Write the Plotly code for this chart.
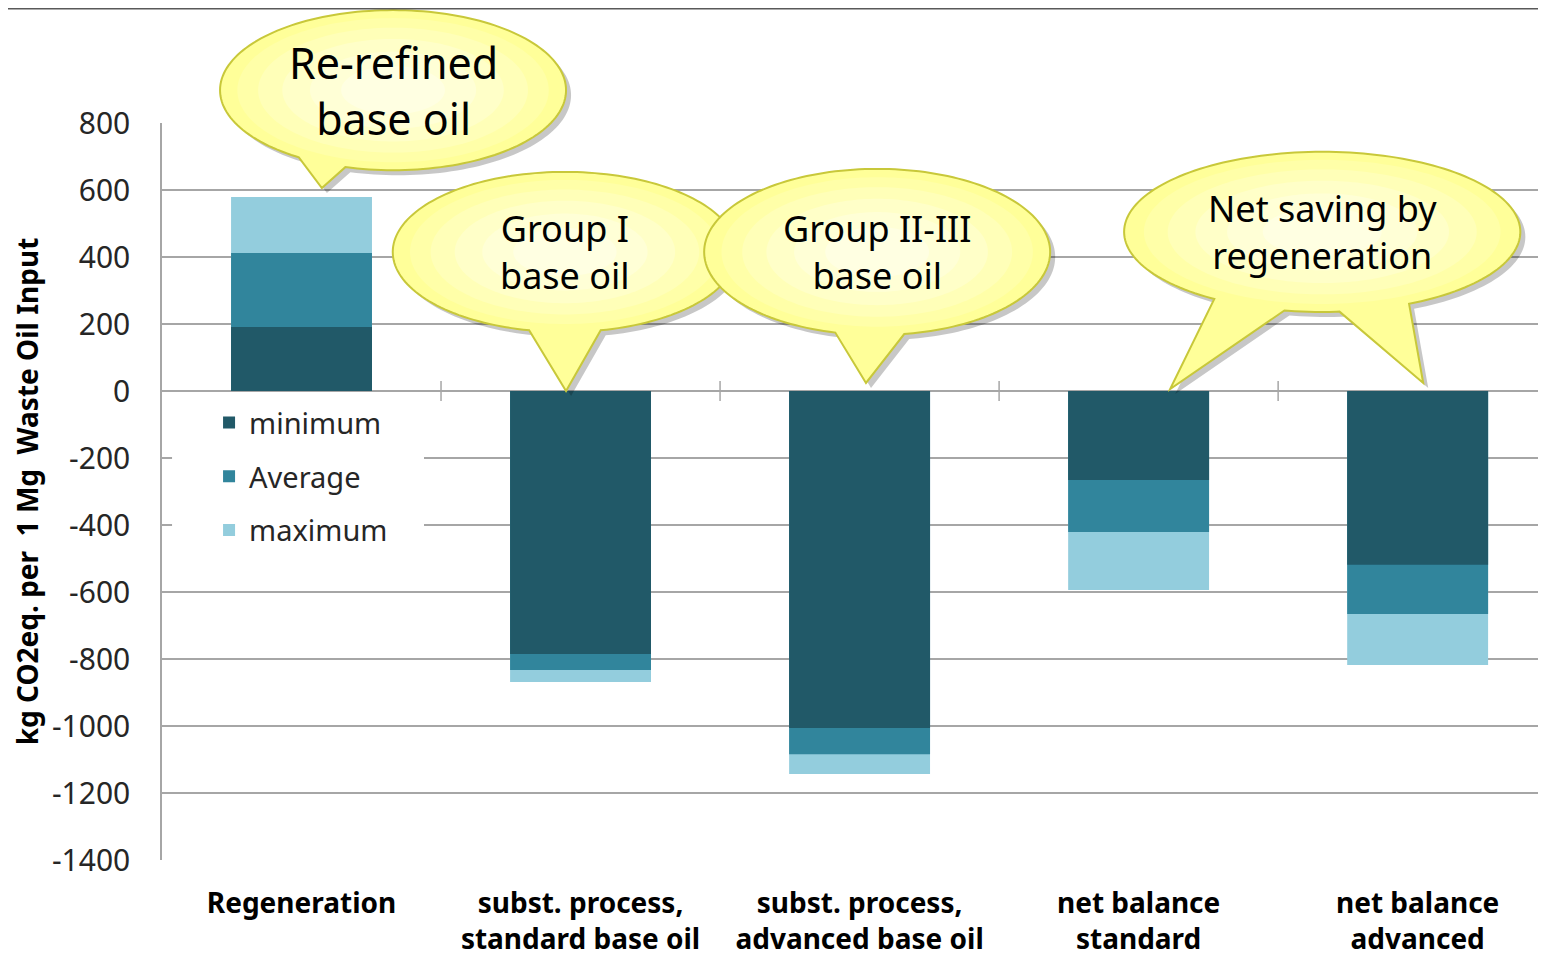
import numpy as np
import plotly.graph_objects as go

# ---------------- data ----------------
categories = ["Regeneration",
              "subst. process,<br>standard base oil",
              "subst. process,<br>advanced base oil",
              "net balance<br>standard",
              "net balance<br>advanced"]
series_names = ["minimum", "Average", "maximum"]
minimum = [191, -785, -1006, -266, -519]
average = [412, -833, -1084, -421, -666]
maximum = [579, -869, -1143, -594, -818]
y_ticks = [-1400, -1200, -1000, -800, -600, -400, -200, 0, 200, 400, 600, 800]
y_ticktext = [str(v) for v in y_ticks]
callout_texts = ["Re-refined<br>base oil", "Group I<br>base oil",
                 "Group II-III<br>base oil", "Net saving by<br>regeneration"]

colors = {"minimum": "#215968", "Average": "#31859C", "maximum": "#93CDDD"}
FONT = "Noto Sans"

xpos = list(range(len(categories)))
X_RANGE = [-0.5, 4.46]
Y_RANGE = [-1400, 800]

fig = go.Figure()
for name, vals, rank in [("maximum", maximum, 3), ("Average", average, 2), ("minimum", minimum, 1)]:
    fig.add_trace(go.Bar(
        x=xpos, y=vals, name=name, width=0.505,
        marker=dict(color=colors[name], line=dict(width=0)),
        legendrank=rank, legendgroup=name,
    ))

def to_paper(x, y):
    return ((x - X_RANGE[0]) / (X_RANGE[1] - X_RANGE[0]),
            (y - Y_RANGE[0]) / (Y_RANGE[1] - Y_RANGE[0]))

# ------------- callouts (decoration) -------------
def callout_path(cx, cy, rx, ry, tails, scale=1.0, dx=0.0, dy=0.0, n=180):
    pts = []
    ts = np.linspace(0, 360, n, endpoint=False)
    used = set()
    for t in ts:
        inside = None
        for i, (a0, a1, tx, ty) in enumerate(tails):
            if a0 <= t <= a1:
                inside = i
        if inside is None:
            r = np.radians(t)
            pts.append((cx + dx + scale * rx * np.cos(r), cy + dy + scale * ry * np.sin(r)))
        else:
            if inside not in used:
                a0, a1, tx, ty = tails[inside]
                r0, r1 = np.radians(a0), np.radians(a1)
                pts.append((cx + dx + rx * np.cos(r0), cy + dy + ry * np.sin(r0)))
                pts.append((tx + dx, ty + dy))
                pts.append((cx + dx + rx * np.cos(r1), cy + dy + ry * np.sin(r1)))
                used.add(inside)
    pp = [to_paper(x, y) for x, y in pts]
    return "M " + " L ".join(f"{x:.5f},{y:.5f}" for x, y in pp) + " Z"

callouts = [
    # cx, cy, rx, ry, tails(angle0, angle1, tipx, tipy), font size
    (0.328, 898, 0.62, 239, [(237, 254, 0.073, 606)], 43),
    (0.944, 415, 0.617, 239, [(258, 282, 0.948, 0)], 36),
    (2.063, 415, 0.62, 248, [(256, 279, 2.023, 24)], 36),
    (3.658, 475, 0.71, 239, [(237, 259, 3.113, 6), (275, 296, 4.02, 24)], 36),
]

shapes = []
# white box behind legend (hides grid lines like the original)
lx0, ly0 = to_paper(-0.464, -1.0)
shapes.append(dict(type="rect", xref="paper", yref="paper", layer="above",
                   x0=lx0, x1=(424 - 162) / 1384, y0=(860 - 555) / 737, y1=(860 - 398) / 737,
                   fillcolor="white", line=dict(width=0)))
for (cx, cy, rx, ry, tails, fs) in callouts:
    shapes.append(dict(type="path", xref="paper", yref="paper", layer="above",
                       path=callout_path(cx, cy, rx, ry, tails, dx=0.018, dy=-15),
                       fillcolor="rgba(0,0,0,0.22)", line=dict(width=0)))
    shapes.append(dict(type="path", xref="paper", yref="paper", layer="above",
                       path=callout_path(cx, cy, rx, ry, tails),
                       fillcolor="#FFFF99", line=dict(color="#C8C83A", width=2)))
    for s, c in [(0.9, "#FFFFA8"), (0.78, "#FFFFB8"), (0.64, "#FFFFC8"), (0.48, "#FFFFD6"), (0.3, "#FFFFE2")]:
        shapes.append(dict(type="path", xref="paper", yref="paper", layer="above",
                           path=callout_path(cx, cy, rx, ry, [], scale=s),
                           fillcolor=c, line=dict(width=0)))

# category separator ticks on zero line
for b in [0.5, 1.5, 2.5, 3.5]:
    shapes.append(dict(type="line", xref="x", yref="y", x0=b, x1=b, y0=-30, y1=30,
                       line=dict(color="#A6A6A6", width=1.5), layer="below"))
# top border line
shapes.append(dict(type="line", xref="paper", yref="paper", x0=-0.2, x1=1.0,
                   y0=1.1555, y1=1.1555, line=dict(color="#595959", width=2)))

annotations = []
for (cx, cy, rx, ry, tails, fs), txt in zip(callouts, callout_texts):
    px, py = to_paper(cx, cy)
    annotations.append(dict(x=px, y=py, xref="paper", yref="paper", text=txt, showarrow=False,
                            xanchor="center", yanchor="middle",
                            font=dict(family=FONT, size=fs, color="#000000")))

fig.update_layout(
    width=1538, height=951,
    margin=dict(l=154, r=0, t=115, b=99),
    paper_bgcolor="white", plot_bgcolor="white",
    barmode="overlay",
    font=dict(family=FONT, color="#262626"),
    shapes=shapes, annotations=annotations,
    showlegend=True,
    legend=dict(x=0.034, y=0.628, xanchor="left", yanchor="top",
                bgcolor="white", font=dict(family=FONT, size=29, color="#262626"),
                tracegroupgap=13, traceorder="grouped", itemwidth=30),
    xaxis=dict(range=X_RANGE, tickmode="array", tickvals=xpos,
               ticktext=[f"<b>{c}</b>" for c in categories],
               tickfont=dict(family=FONT, size=28, color="#000000"),
               showgrid=False, zeroline=False, showline=False, ticks="",
               ticklabelstandoff=24),
    yaxis=dict(range=Y_RANGE, tickmode="array", tickvals=y_ticks, ticktext=y_ticktext,
               tickfont=dict(family=FONT, size=30, color="#262626"),
               showgrid=True, gridcolor="#A6A6A6", gridwidth=1.5,
               zeroline=True, zerolinecolor="#A6A6A6", zerolinewidth=1.5,
               showline=True, linecolor="#A6A6A6", linewidth=1.5,
               ticks="", ticklabelstandoff=24,
               title=dict(text="<b>kg CO2eq. per  1 Mg  Waste Oil Input</b>",
                          font=dict(family=FONT, size=28, color="#000000"), standoff=20)),
)

fig.write_html("out.html")
